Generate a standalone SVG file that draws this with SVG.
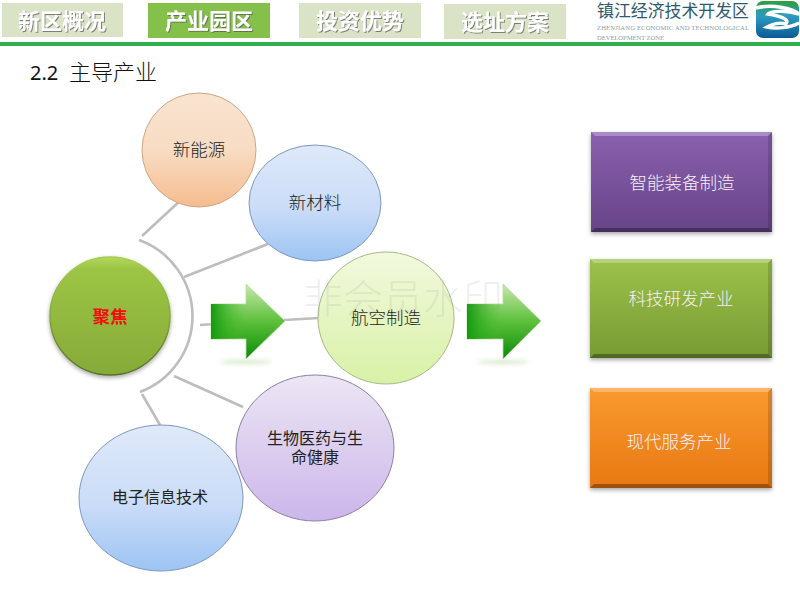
<svg xmlns="http://www.w3.org/2000/svg" width="800" height="600" viewBox="0 0 800 600">
<style>
.tab{font-family:"Noto Sans CJK SC",sans-serif;font-size:22px;font-weight:700;fill:#fff;text-anchor:middle;filter:url(#ts)}
.serif{font-family:"Noto Sans CJK SC",sans-serif;font-size:17.5px;font-weight:300;fill:#222;text-anchor:middle}
.small{font-size:16px;font-weight:400}
.box{font-family:"Noto Sans CJK SC",sans-serif;font-size:17.5px;font-weight:300;fill:#f6f0f8;text-anchor:middle}
.con{fill:none;stroke:#bdbdbd;stroke-width:2.6}
.rim{stroke-width:1}
.rect{filter:url(#sh)}
.hi{fill:#fff;opacity:.28}
.lo{fill:#000;opacity:.32}
.side{fill:#000;opacity:.14}
</style>
<defs>
<filter id="ts" x="-10%" y="-10%" width="120%" height="130%"><feDropShadow dx="1" dy="1" stdDeviation="0.6" flood-color="#555" flood-opacity="0.7"/></filter>
<filter id="sh" x="-10%" y="-10%" width="120%" height="125%"><feDropShadow dx="0" dy="2" stdDeviation="2" flood-color="#000" flood-opacity="0.35"/></filter>
<filter id="blur" x="-20%" y="-200%" width="140%" height="500%"><feGaussianBlur stdDeviation="2"/></filter>
<linearGradient id="orange" x1="0" y1="0" x2="0" y2="1"><stop offset="0" stop-color="#f9e3d0"/><stop offset="0.5" stop-color="#f8dcc3"/><stop offset="1" stop-color="#f5bc8e"/></linearGradient>
<linearGradient id="blue" x1="0" y1="0" x2="0" y2="1"><stop offset="0" stop-color="#dfe9f9"/><stop offset="0.55" stop-color="#cadcf8"/><stop offset="1" stop-color="#9cc4f3"/></linearGradient>
<linearGradient id="lime" x1="0" y1="0" x2="0" y2="1"><stop offset="0" stop-color="#f2f9de"/><stop offset="1" stop-color="#d8f1a6"/></linearGradient>
<linearGradient id="violet" x1="0" y1="0" x2="0" y2="1"><stop offset="0" stop-color="#ece6f4"/><stop offset="1" stop-color="#ccb6ea"/></linearGradient>
<linearGradient id="leaf" x1="0" y1="0" x2="0" y2="1"><stop offset="0" stop-color="#b4d85c"/><stop offset="0.1" stop-color="#9cc545"/><stop offset="1" stop-color="#86aa38"/></linearGradient>
<linearGradient id="leafrim" x1="0" y1="0" x2="0" y2="1"><stop offset="0" stop-color="#a8cc58"/><stop offset="0.5" stop-color="#86a83c"/><stop offset="1" stop-color="#56702a"/></linearGradient>
<linearGradient id="ar1" x1="0" y1="0" x2="0" y2="1"><stop offset="0" stop-color="#c8e8ae"/><stop offset="0.5" stop-color="#5cc03a"/><stop offset="1" stop-color="#0c8a08"/></linearGradient>
<linearGradient id="ar2" x1="0" y1="0" x2="1" y2="0"><stop offset="0" stop-color="#129a0e"/><stop offset="1" stop-color="#4cc030" stop-opacity="0"/></linearGradient>
<linearGradient id="pur" x1="0" y1="0" x2="0" y2="1"><stop offset="0" stop-color="#8a60ae"/><stop offset="1" stop-color="#674488"/></linearGradient>
<linearGradient id="grn" x1="0" y1="0" x2="0" y2="1"><stop offset="0" stop-color="#9cc24a"/><stop offset="1" stop-color="#789a34"/></linearGradient>
<linearGradient id="org" x1="0" y1="0" x2="0" y2="1"><stop offset="0" stop-color="#f99a30"/><stop offset="1" stop-color="#e87812"/></linearGradient>
<linearGradient id="logo" x1="0" y1="0" x2="0" y2="1"><stop offset="0" stop-color="#2f9e3a"/><stop offset="0.4" stop-color="#2c9cc0"/><stop offset="1" stop-color="#0d5a96"/></linearGradient>
</defs>

<g id="header">
<rect x="2" y="3" width="121" height="34" fill="#dbe3c6"/>
<text class="tab" x="62" y="29">新区概况</text>
<rect x="148" y="3" width="122" height="35" fill="#84c04a"/>
<text class="tab" x="209" y="29">产业园区</text>
<rect x="299" y="3" width="122" height="35" fill="#dbe3c6"/>
<text class="tab" x="360" y="29">投资优势</text>
<rect x="444" y="4" width="122" height="35" fill="#dbe3c6"/>
<text class="tab" x="505" y="30">选址方案</text>
<rect x="0" y="42" width="800" height="4" fill="#2fb04a"/>
<text x="597" y="17" font-family="'Noto Sans CJK SC',sans-serif" font-size="16.9" fill="#2f5a6e">镇江经济技术开发区</text>
<text x="597" y="30" font-family="'Liberation Serif',serif" font-size="6.6" fill="#8aa0a8" textLength="152">ZHENJIANG ECONOMIC AND TECHNOLOGICAL</text>
<text x="597" y="40" font-family="'Liberation Serif',serif" font-size="6.6" fill="#8aa0a8" textLength="67">DEVELOPMENT ZONE</text>
<rect x="756" y="1" width="43" height="37" rx="7" fill="url(#logo)"/>
<path d="M756 8C772 4 792 8 799 14C786 10 770 11 768 14C780 16 790 19 786 24C780 22 772 24 767 27C776 29 790 28 799 23" fill="none" stroke="#fff" stroke-width="3.5"/>
</g>

<text id="title" y="80" font-family="'Noto Sans CJK SC',sans-serif" fill="#111"><tspan x="30" font-family="'Noto Sans','Liberation Sans',sans-serif" font-size="20">2.2</tspan><tspan x="69" font-size="22" font-weight="300">主导产业</tspan></text>

<g id="connectors">
<path class="con" d="M139 240A81 81 0 0 1 140 392"/>
<path class="con" d="M142 236L182 199"/>
<path class="con" d="M184 277L268 244"/>
<path class="con" d="M200 325L216 324"/>
<path class="con" d="M284 320L319 318"/>
<path class="con" d="M174 376L243 407"/>
<path class="con" d="M142 394L160 425"/>
</g>

<g id="n-newenergy"><circle class="rim" cx="199" cy="150" r="57" fill="url(#orange)" stroke="#c9a888"/><text class="serif" x="199" y="156">新能源</text></g>
<g id="n-material"><ellipse class="rim" cx="315" cy="203" rx="66" ry="58" fill="url(#blue)" stroke="#7e98bc"/><text class="serif" x="315" y="209">新材料</text></g>
<g id="n-aero"><ellipse class="rim" cx="386" cy="318" rx="68" ry="66" fill="url(#lime)" stroke="#a8b888"/><text class="serif" x="386" y="324">航空制造</text></g>
<g id="n-bio"><ellipse class="rim" cx="315" cy="448" rx="79" ry="73" fill="url(#violet)" stroke="#8a80a8"/><text class="serif small" x="315" y="444">生物医药与生</text><text class="serif small" x="315" y="463">命健康</text></g>
<g id="n-elec"><ellipse class="rim" cx="161" cy="498" rx="82" ry="73" fill="url(#blue)" stroke="#7e98bc"/><text class="serif small" x="160" y="503">电子信息技术</text></g>
<g id="n-focus"><ellipse cx="110" cy="316" rx="60" ry="59" fill="url(#leaf)" stroke="url(#leafrim)" stroke-width="1.5" filter="url(#sh)"/><text x="110" y="323" font-family="'Noto Sans CJK SC',sans-serif" font-size="17.5" font-weight="700" fill="#f01010" text-anchor="middle">聚焦</text></g>

<g id="arrows">
<ellipse cx="246" cy="362" rx="26" ry="2" fill="#d4e8c8" filter="url(#blur)"/>
<path d="M211 304H246V284L285 321L246 359V339H211Z" fill="url(#ar1)" stroke="#b8dca0" stroke-width="0.8"/>
<path d="M211 304H246V339H211Z" fill="url(#ar2)"/>
<ellipse cx="503" cy="362" rx="26" ry="2" fill="#d4e8c8" filter="url(#blur)"/>
<path d="M467 304H503V284L541 321L503 359V339H467Z" fill="url(#ar1)" stroke="#b8dca0" stroke-width="0.8"/>
<path d="M467 304H503V339H467Z" fill="url(#ar2)"/>
</g>

<g id="n-smart"><rect class="rect" x="591" y="132" width="181" height="100" fill="url(#pur)"/><path class="hi" d="M591 132H772L768 136H595Z"/><path class="lo" d="M591 232H772L768 228H595Z"/><path class="side" d="M772 132V232L768 228V136Z"/><text class="box" x="682" y="189">智能装备制造</text></g>
<g id="n-rd"><rect class="rect" x="590" y="259" width="182" height="99" fill="url(#grn)"/><path class="hi" d="M590 259H772L768 263H594Z"/><path class="lo" d="M590 358H772L768 354H594Z"/><path class="side" d="M772 259V358L768 354V263Z"/><text class="box" x="681" y="305">科技研发产业</text></g>
<g id="n-service"><rect class="rect" x="590" y="388" width="182" height="100" fill="url(#org)"/><path class="hi" d="M590 388H772L768 392H594Z"/><path class="lo" d="M590 488H772L768 484H594Z"/><path class="side" d="M772 388V488L768 484V392Z"/><text class="box" x="679" y="448">现代服务产业</text></g>

<g id="watermark"><text x="303" y="313" font-family="'Noto Sans CJK SC',sans-serif" font-size="40" font-weight="300" fill="#888" opacity="0.13">非会员水印</text></g>
</svg>
